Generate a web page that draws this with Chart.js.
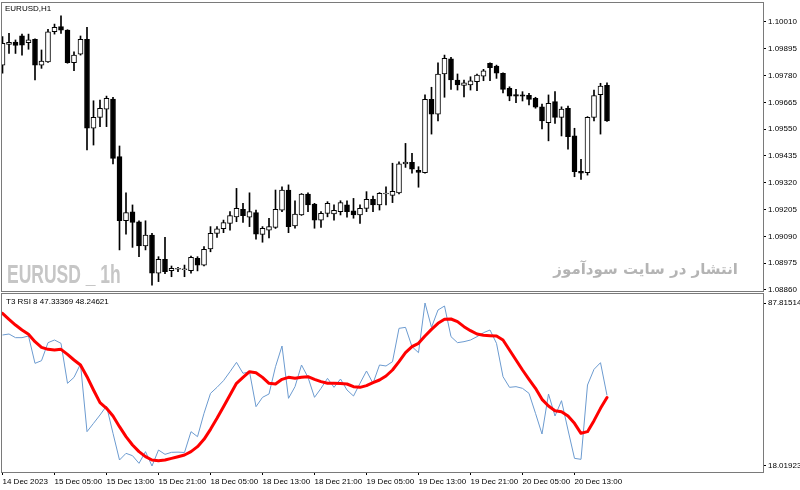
<!DOCTYPE html>
<html><head><meta charset="utf-8">
<script src="https://cdn.jsdelivr.net/npm/chart.js@4.4.0/dist/chart.umd.min.js"></script>
<style>
html,body{margin:0;padding:0;background:#fff;width:800px;height:490px;overflow:hidden}
#wrap{position:relative;width:800px;height:490px}
canvas{position:absolute;left:0}
#c1{top:0}
#c2{top:292px}
.t{position:absolute;font-family:'Liberation Sans',Arial,sans-serif;font-size:8px;color:#000;white-space:nowrap;line-height:1}
#wm{position:absolute;left:7px;top:262px;font-family:'Liberation Sans',Arial,sans-serif;font-weight:bold;font-size:25px;color:#c6c6c6;white-space:nowrap;line-height:1;transform:scaleX(0.70);transform-origin:left top}
#fa{position:absolute;left:558px;top:262px;width:180px;text-align:right;direction:rtl;font-family:'DejaVu Sans',sans-serif;font-weight:bold;font-size:15px;color:#b4b4b4;white-space:nowrap;line-height:1}
</style></head>
<body><div id="wrap">
<canvas id="c1" width="800" height="297"></canvas>
<canvas id="c2" width="800" height="198"></canvas>
<div class="t" style="left:5px;top:5px">EURUSD,H1</div>
<div class="t" style="left:6px;top:298px">T3 RSI 8 47.33369 48.24621</div>
<div id="wm">EURUSD _ 1h</div>
<div id="fa">انتشار در سایت سودآموز</div>
</div>
<script>
const open = [1.09825,1.09914,1.09924,1.09951,1.09921,1.09936,1.09825,1.09839,1.09968,1.09990,
1.09975,1.09835,1.09872,1.09936,1.09554,1.09601,1.09636,1.09679,1.09432,1.09157,
1.09195,1.09153,1.09049,1.09096,1.08932,1.08992,1.08943,1.08949,1.08947,1.08943,
1.08996,1.08967,1.09036,1.09103,1.09123,1.09146,1.09174,1.09206,1.09172,1.09192,
1.09099,1.09117,1.09129,1.09203,1.09289,1.09135,1.09182,1.09272,1.09229,1.09160,
1.09189,1.09186,1.09196,1.09225,1.09200,1.09182,1.09210,1.09249,1.09225,1.09272,
1.09266,1.09277,1.09401,1.09408,1.09374,1.09363,1.09678,1.09615,1.09787,1.09852,
1.09761,1.09738,1.09740,1.09754,1.09778,1.09833,1.09821,1.09790,1.09725,1.09698,
1.09697,1.09695,1.09682,1.09646,1.09578,1.09668,1.09601,1.09640,1.09521,1.09369,
1.09363,1.09601,1.09698,1.09738];
const high = [1.09947,1.09961,1.09933,1.09958,1.09958,1.09938,1.09890,1.09978,1.10001,1.10036,
1.09977,1.09882,1.09950,1.09987,1.09672,1.09675,1.09692,1.09687,1.09478,1.09277,
1.09225,1.09157,1.09157,1.09103,1.09003,1.09086,1.08963,1.08957,1.08967,1.09006,
1.09003,1.09046,1.09132,1.09132,1.09160,1.09196,1.09296,1.09232,1.09277,1.09203,
1.09132,1.09168,1.09289,1.09303,1.09311,1.09243,1.09274,1.09277,1.09232,1.09196,
1.09239,1.09225,1.09243,1.09243,1.09253,1.09225,1.09282,1.09263,1.09278,1.09303,
1.09404,1.09410,1.09489,1.09446,1.09389,1.09697,1.09730,1.09835,1.09868,1.09858,
1.09787,1.09761,1.09775,1.09787,1.09807,1.09835,1.09825,1.09792,1.09732,1.09721,
1.09711,1.09704,1.09687,1.09658,1.09697,1.09711,1.09646,1.09649,1.09554,1.09421,
1.09604,1.09718,1.09747,1.09749];
const low = [1.09790,1.09875,1.09875,1.09868,1.09893,1.09761,1.09811,1.09836,1.09958,1.09961,
1.09833,1.09801,1.09868,1.09461,1.09482,1.09561,1.09561,1.09401,1.09032,1.09100,
1.09043,1.09003,1.09032,1.08881,1.08896,1.08930,1.08917,1.08939,1.08917,1.08932,
1.08942,1.08963,1.09024,1.09086,1.09106,1.09117,1.09153,1.09150,1.09132,1.09078,
1.09065,1.09084,1.09124,1.09196,1.09106,1.09125,1.09180,1.09196,1.09125,1.09129,
1.09174,1.09160,1.09182,1.09172,1.09168,1.09146,1.09196,1.09196,1.09203,1.09225,
1.09235,1.09272,1.09386,1.09361,1.09301,1.09361,1.09529,1.09586,1.09687,1.09721,
1.09718,1.09689,1.09718,1.09715,1.09758,1.09758,1.09768,1.09706,1.09672,1.09664,
1.09671,1.09654,1.09640,1.09551,1.09500,1.09575,1.09521,1.09464,1.09346,1.09335,
1.09353,1.09586,1.09529,1.09583];
const close = [1.09918,1.09923,1.09910,1.09911,1.09933,1.09825,1.09842,1.09968,1.09987,1.09975,
1.09835,1.09868,1.09936,1.09554,1.09601,1.09640,1.09682,1.09425,1.09157,1.09192,
1.09150,1.09049,1.09096,1.08932,1.08992,1.08939,1.08953,1.08953,1.08950,1.09000,
1.08967,1.09035,1.09103,1.09123,1.09149,1.09179,1.09210,1.09179,1.09196,1.09100,
1.09125,1.09132,1.09206,1.09289,1.09132,1.09186,1.09272,1.09225,1.09160,1.09189,
1.09232,1.09202,1.09235,1.09196,1.09182,1.09210,1.09249,1.09225,1.09275,1.09273,
1.09283,1.09401,1.09409,1.09378,1.09365,1.09678,1.09615,1.09787,1.09854,1.09761,
1.09740,1.09749,1.09758,1.09782,1.09800,1.09814,1.09790,1.09721,1.09692,1.09692,
1.09692,1.09678,1.09644,1.09586,1.09661,1.09601,1.09636,1.09518,1.09368,1.09361,
1.09601,1.09694,1.09735,1.09585];
const rsi = [74.11,74.54,72.97,72.97,73.68,61.98,63.12,70.83,71.97,70.54,
53.42,55.98,61.69,32.72,36.29,39.86,43.71,32.01,20.59,23.44,
22.44,19.16,24.16,18.02,24.87,23.01,23.87,23.95,23.82,32.72,
30.58,40.57,49.13,51.70,54.56,58.41,62.41,57.70,58.41,43.42,
47.42,48.85,60.55,69.40,46.99,51.99,61.27,55.98,47.42,51.27,
55.56,51.70,55.27,50.56,47.99,53.42,58.70,53.42,61.27,60.84,
62.69,76.97,77.39,69.12,66.55,87.815,77.39,84.82,86.53,73.40,
70.83,71.26,71.97,73.40,75.11,76.25,70.54,56.27,51.70,51.99,
51.27,49.13,40.57,31.72,48.85,39.43,45.99,33.43,21.30,20.87,
52.70,59.41,62.26,48.25];
const t3 = [83.39,80.82,78.39,76.25,74.40,71.26,68.83,67.97,67.69,67.97,
65.83,63.41,61.27,56.27,50.56,45.14,42.71,39.43,34.86,30.58,
27.01,24.16,22.01,20.59,20.30,20.59,21.30,22.01,22.73,24.16,
26.30,29.44,33.72,38.43,43.42,48.42,53.42,55.98,58.41,57.98,
55.98,53.42,53.13,55.13,55.98,55.56,55.98,56.27,55.13,54.13,
53.42,53.42,53.30,53.13,51.99,51.70,52.42,53.70,54.84,56.56,
59.12,62.69,66.55,69.12,70.54,73.68,76.54,79.11,80.82,80.96,
79.82,77.68,75.97,74.54,73.97,73.83,73.68,71.97,67.69,63.41,
59.12,55.13,51.27,46.56,43.71,41.71,41.28,39.43,36.29,32.01,
32.72,37.43,42.71,47.33];
const timeLabels = ['14 Dec 2023','15 Dec 05:00','15 Dec 13:00','15 Dec 21:00','18 Dec 05:00','18 Dec 13:00','18 Dec 21:00','19 Dec 05:00','19 Dec 13:00','19 Dec 21:00','20 Dec 05:00','20 Dec 13:00'];
const timeLabelBars = [0,8,16,24,32,40,48,56,64,72,80,88];
const priceTicks = [1.08860,1.08975,1.09090,1.09205,1.09320,1.09435,1.09550,1.09665,1.09780,1.09895,1.10010];
const rsiTicks = [87.81514,18.01923];

const FONT = {family:"'Liberation Sans', Arial, sans-serif", size:8};
const X_MIN = -0.077, X_MAX = 117.0;

const frame = {id:'frame', afterDraw(chart){
  const {ctx, chartArea:a} = chart;
  ctx.save(); ctx.strokeStyle = '#7a7a7a'; ctx.lineWidth = 1;
  ctx.strokeRect(Math.round(a.left)-0.5, Math.round(a.top)-0.5, Math.round(a.right-a.left)+1, Math.round(a.bottom-a.top)+1);
  ctx.restore();
}};
function fixY(s){ s.width = 37; s.paddingTop = 0; s.paddingBottom = 0; }

new Chart(document.getElementById('c1'), {
  type:'bar',
  data:{datasets:[
    {label:'body', data: open.map((o,i)=>({x:i, y:[o, close[i]]})),
     backgroundColor: open.map((o,i)=> close[i] >= o ? '#ffffff' : '#000000'),
     borderColor:'#000000', borderWidth:1, borderSkipped:false, barThickness:5, grouped:false, order:0, minBarLength:1},
    {label:'wick', data: low.map((l,i)=>({x:i, y:[l, high[i]]})),
     backgroundColor:'#000000', borderWidth:0, barThickness:1, grouped:false, order:1}
  ]},
  options:{
    responsive:false, animation:false, devicePixelRatio:1,
    layout:{padding:{left:2, top:3, bottom:6, right:0}},
    plugins:{legend:{display:false}, tooltip:{enabled:false}},
    scales:{
      x:{type:'linear', min:X_MIN, max:X_MAX, offset:false, display:false, grid:{offset:false}},
      y:{position:'right', min:1.088557, max:1.100915,
         afterFit: fixY,
         afterBuildTicks(s){ s.ticks = priceTicks.map(v=>({value:v})); },
         ticks:{callback:v=>Number(v).toFixed(5), font:FONT, color:'#000', padding:2},
         grid:{drawOnChartArea:false, tickLength:3, color:'#000'}, border:{display:false}}
    }
  },
  plugins:[frame]
});

new Chart(document.getElementById('c2'), {
  type:'line',
  data:{datasets:[
    {label:'RSI', data: rsi.map((v,i)=>({x:i, y:v})), borderColor:'#6c9bd0', borderWidth:1, pointRadius:0, order:1},
    {label:'T3', data: t3.map((v,i)=>({x:i, y:v})), borderColor:'#ff0000', borderWidth:3, pointRadius:0, order:0, borderCapStyle:'round', borderJoinStyle:'round'}
  ]},
  options:{
    responsive:false, animation:false, devicePixelRatio:1,
    layout:{padding:{left:2, top:2, bottom:0, right:0}},
    plugins:{legend:{display:false}, tooltip:{enabled:false}},
    scales:{
      x:{type:'linear', min:X_MIN, max:X_MAX, offset:false,
         afterFit(s){ s.height = 18; s.paddingLeft = 0; s.paddingRight = 0; },
         afterBuildTicks(s){ s.ticks = timeLabelBars.map(v=>({value:v})); },
         ticks:{callback:(v,idx)=>timeLabels[idx], align:'start', maxRotation:0, autoSkip:false, font:FONT, color:'#000', padding:2},
         grid:{drawOnChartArea:false, tickLength:3, color:'#000', offset:false}, border:{display:false}},
      y:{position:'right', min:15.45, max:91.67,
         afterFit: fixY,
         afterBuildTicks(s){ s.ticks = rsiTicks.map(v=>({value:v})); },
         ticks:{callback:v=>Number(v).toFixed(5), font:FONT, color:'#000', padding:2},
         grid:{drawOnChartArea:false, tickLength:3, color:'#000'}, border:{display:false}}
    }
  },
  plugins:[frame]
});
</script>
</body></html>
